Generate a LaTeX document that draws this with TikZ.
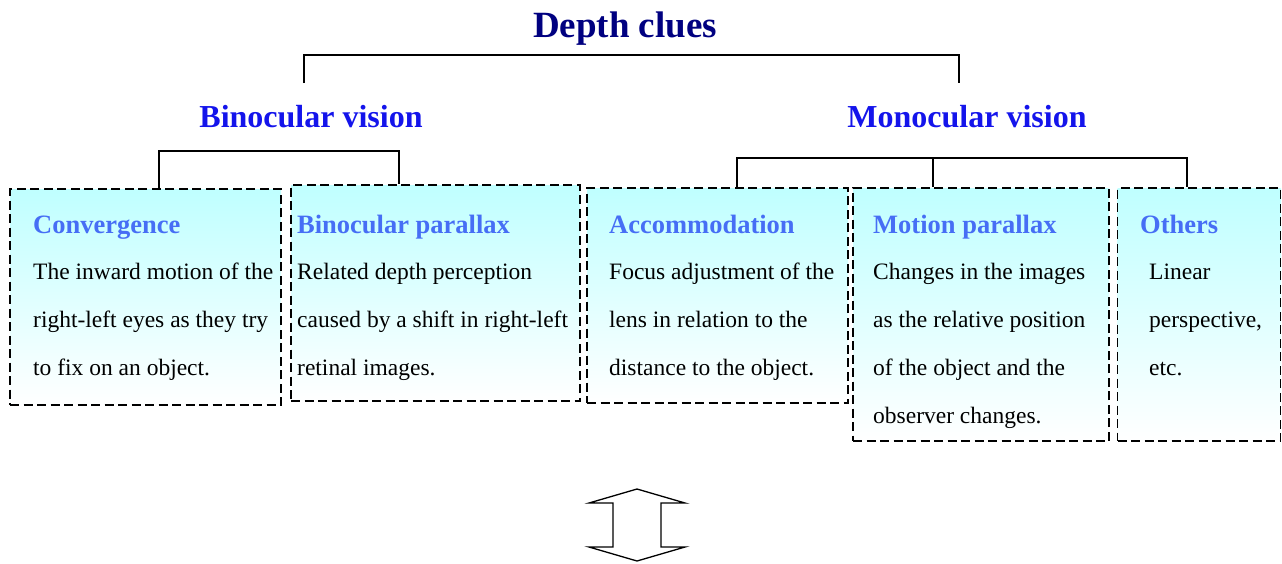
\documentclass[tikz,border=0pt]{standalone}
\usepackage{fontspec}
\setmainfont{Liberation Serif}
\definecolor{navy}{RGB}{0,0,128}
\definecolor{subblue}{RGB}{20,20,235}
\definecolor{ttlblue}{RGB}{70,110,245}
\begin{document}
\begin{tikzpicture}[x=1pt,y=-1pt,
  cluebox/.style={draw, dashed, dash pattern=on 9pt off 4.5pt, line width=1.4pt,
    top color=cyan!25, bottom color=white, inner sep=0pt, minimum width=#1},
  bodytext/.style={anchor=base west, inner sep=0pt, font=\fontsize{23.5}{28}\selectfont},
  boxtitle/.style={anchor=base west, inner sep=0pt, text=ttlblue, font=\fontsize{26.5}{30}\selectfont\bfseries},
  subhead/.style={anchor=base, inner sep=0pt, text=subblue, font=\fontsize{32}{36}\selectfont\bfseries},
  maintitle/.style={anchor=base, inner sep=0pt, text=navy, font=\fontsize{37}{40}\selectfont\bfseries},
  bracket/.style={line width=1.3pt},
  bigarrow/.style={line width=1.3pt, line join=miter}]
\useasboundingbox (0,0) rectangle (1282,563);

% titles
\node[maintitle] (title) at (625,37) {Depth clues};
\node[subhead] (bin) at (311,127) {Binocular vision};
\node[subhead] (mon) at (967,127) {Monocular vision};

% boxes
\node[cluebox=271pt, minimum height=216pt] (b1) at (145.5,297) {};
\node[cluebox=289pt, minimum height=216pt] (b2) at (435.5,293) {};
\node[cluebox=261pt, minimum height=215pt] (b3) at (717.5,295.5) {};
\node[cluebox=256pt, minimum height=253pt] (b4) at (981,314.5) {};
\node[cluebox=163pt, minimum height=253pt] (b5) at (1199,314.5) {};

% texts box 1
\node[boxtitle] (t1) at (33,233) {Convergence};
\node[bodytext] (l11) at (33,279) {The inward motion of the};
\node[bodytext] (l12) at (33,327) {right-left eyes as they try};
\node[bodytext] (l13) at (33,375) {to fix on an object.};
% box 2
\node[boxtitle] (t2) at (297,233) {Binocular parallax};
\node[bodytext] (l21) at (297,279) {Related depth perception};
\node[bodytext] (l22) at (297,327) {caused by a shift in right-left};
\node[bodytext] (l23) at (297,375) {retinal images.};
% box 3
\node[boxtitle] (t3) at (609,233) {Accommodation};
\node[bodytext] (l31) at (609,279) {Focus adjustment of the};
\node[bodytext] (l32) at (609,327) {lens in relation to the};
\node[bodytext] (l33) at (609,375) {distance to the object.};
% box 4
\node[boxtitle] (t4) at (873,233) {Motion parallax};
\node[bodytext] (l41) at (873,279) {Changes in the images};
\node[bodytext] (l42) at (873,327) {as the relative position};
\node[bodytext] (l43) at (873,375) {of the object and the};
\node[bodytext] (l44) at (873,423) {observer changes.};
% box 5
\node[boxtitle] (t5) at (1140,233) {Others};
\node[bodytext] (l51) at (1149,279) {Linear};
\node[bodytext] (l52) at (1149,327) {perspective,};
\node[bodytext] (l53) at (1149,375) {etc.};

% brackets
\coordinate (tl) at (304,55);
\coordinate (tr) at (959,55);
\coordinate (tlend) at (304,83);
\coordinate (trend) at (959,83);
\draw[bracket] (tlend) -- (tl) -- (tr) -- (trend);

\coordinate (bl) at (159,151);
\coordinate (br) at (399,151);
\draw[bracket] (b1.north -| bl) -- (bl) -- (br) -- (b2.north -| br);

\coordinate (ml) at (737,158);
\coordinate (mm) at (933,158);
\coordinate (mr) at (1187,158);
\draw[bracket] (b3.north -| ml) -- (ml) -- (mr) -- (b5.north -| mr);
\draw[bracket] (mm) -- (b4.north -| mm);

% double arrow
\draw[bigarrow] (637,489) -- (685,503) -- (661,503) -- (661,547) -- (685,547)
  -- (637,561) -- (589,547) -- (613,547) -- (613,503) -- (589,503) -- cycle;
\end{tikzpicture}
\end{document}
